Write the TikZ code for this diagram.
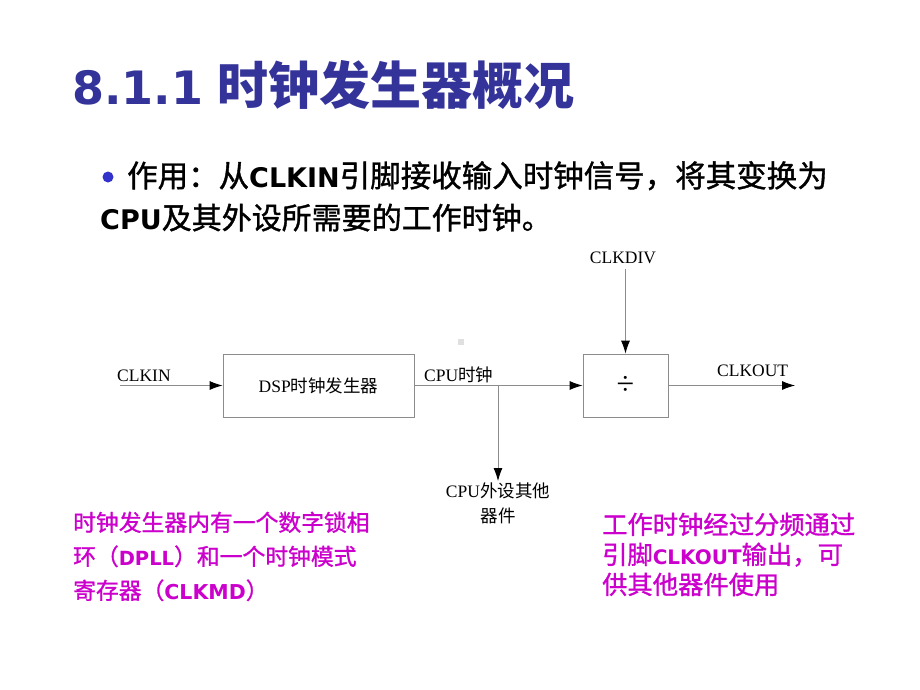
\documentclass[tikz,border=0pt]{standalone}
\usepackage{fontspec}
\setmainfont{DejaVu Sans}
\newfontfamily\cjk{Noto Sans CJK SC}
\newfontfamily\cjkm{Noto Sans CJK SC}[FakeBold=1.2]
\newfontfamily\tnr{Liberation Serif}
\usetikzlibrary{arrows.meta,positioning}
\definecolor{titleblue}{RGB}{51,51,153}
\definecolor{dotblue}{RGB}{51,51,204}
\definecolor{notepink}{RGB}{204,0,204}
\definecolor{wiregray}{RGB}{140,140,140}
% bold latin part inside chinese text: size, text
\newcommand{\bl}[2]{{\rmfamily\bfseries\fontsize{#1}{#1}\selectfont #2}}

\begin{document}
\begin{tikzpicture}[x=1pt,y=-1pt,
  blk/.style={draw=wiregray, line width=0.8pt, rectangle, inner sep=0pt, font=\tnr\fontsize{17.5}{20}\selectfont},
  lbl/.style={inner sep=0pt, font=\tnr\fontsize{17.5}{20}\selectfont},
  wire/.style={draw=wiregray, line width=0.8pt, -{Latex[length=13pt,width=9pt,color=black]}},
  note/.style={inner sep=0pt, anchor=base west, text=notepink}]
\useasboundingbox (0,0) rectangle (920,690);

% heading and bullet text
\node (title) [anchor=base west, inner sep=0pt, text=titleblue] at (72,105) {\bfseries\fontsize{46}{46}\selectfont 8.1.1\hspace{14pt}\cjk\fontsize{51}{51}\selectfont 时钟发生器概况};
\fill[dotblue] (108,177) circle (5.5pt);
\node (use1) [anchor=base west, inner sep=0pt] at (127,187) {\cjkm\fontsize{30.5}{30.5}\selectfont 作用：从\bl{27}{CLKIN}引脚接收输入时钟信号，将其变换为};
\node (use2) [anchor=base west, inner sep=0pt] at (100,229) {\cjkm\fontsize{30}{30}\selectfont \bl{27}{CPU}及其外设所需要的工作时钟。};

% block diagram
\fill[black!12] (458,339) rectangle (464,345);
\node (clkin) [lbl, anchor=base west] at (117,381) {CLKIN};
\node (dsp) [blk, minimum width=191pt, minimum height=63pt] at (318.5,385.5) {DSP{\cjk 时钟发生器}};
\node (cpuclk) [lbl, anchor=base west] at (424,381) {CPU{\cjk 时钟}};
\node (div) [blk, minimum width=85pt, minimum height=63pt] at (625.5,385.5) {\fontsize{32}{32}\selectfont ÷};
\node (clkdiv) [lbl, anchor=base, inner sep=6pt] at (623,263) {CLKDIV};
\node (clkout) [lbl, anchor=base west] at (717,376) {CLKOUT};
\node (periph) [lbl, align=center, anchor=north, inner sep=2pt, font=\tnr\fontsize{17.5}{25}\selectfont] at (498,481) {CPU{\cjk 外设其他}\\{\cjk 器件}};
\coordinate (inend) at (120,385.5);
\coordinate (outend) at (795,385.5);
\coordinate (jn) at (periph.north |- dsp.east);
\draw[wire] (inend) -- (dsp.west);
\draw[wire] (dsp.east) -- (div.west);
\draw[wire] (jn) -- (periph.north);
\draw[wire] (div.north |- clkdiv.south) -- (div.north);
\draw[wire] (div.east) -- (outend);

% notes
\node (note1) [note] at (73,531) {\cjkm\fontsize{22.8}{22.8}\selectfont 时钟发生器内有一个数字锁相};
\node (note2) [note] at (73,565) {\cjkm\fontsize{22.8}{22.8}\selectfont 环（\bl{19.5}{DPLL}）和一个时钟模式};
\node (note3) [note] at (73,599) {\cjkm\fontsize{22.8}{22.8}\selectfont 寄存器（\bl{20.5}{CLKMD}）};
\node (note4) [note] at (602,534) {\cjkm\fontsize{25.3}{25.3}\selectfont 工作时钟经过分频通过};
\node (note5) [note] at (602,564) {\cjkm\fontsize{25.3}{25.3}\selectfont 引脚\bl{20}{CLKOUT}输出，可};
\node (note6) [note] at (602,594) {\cjkm\fontsize{25.3}{25.3}\selectfont 供其他器件使用};
\end{tikzpicture}
\end{document}
